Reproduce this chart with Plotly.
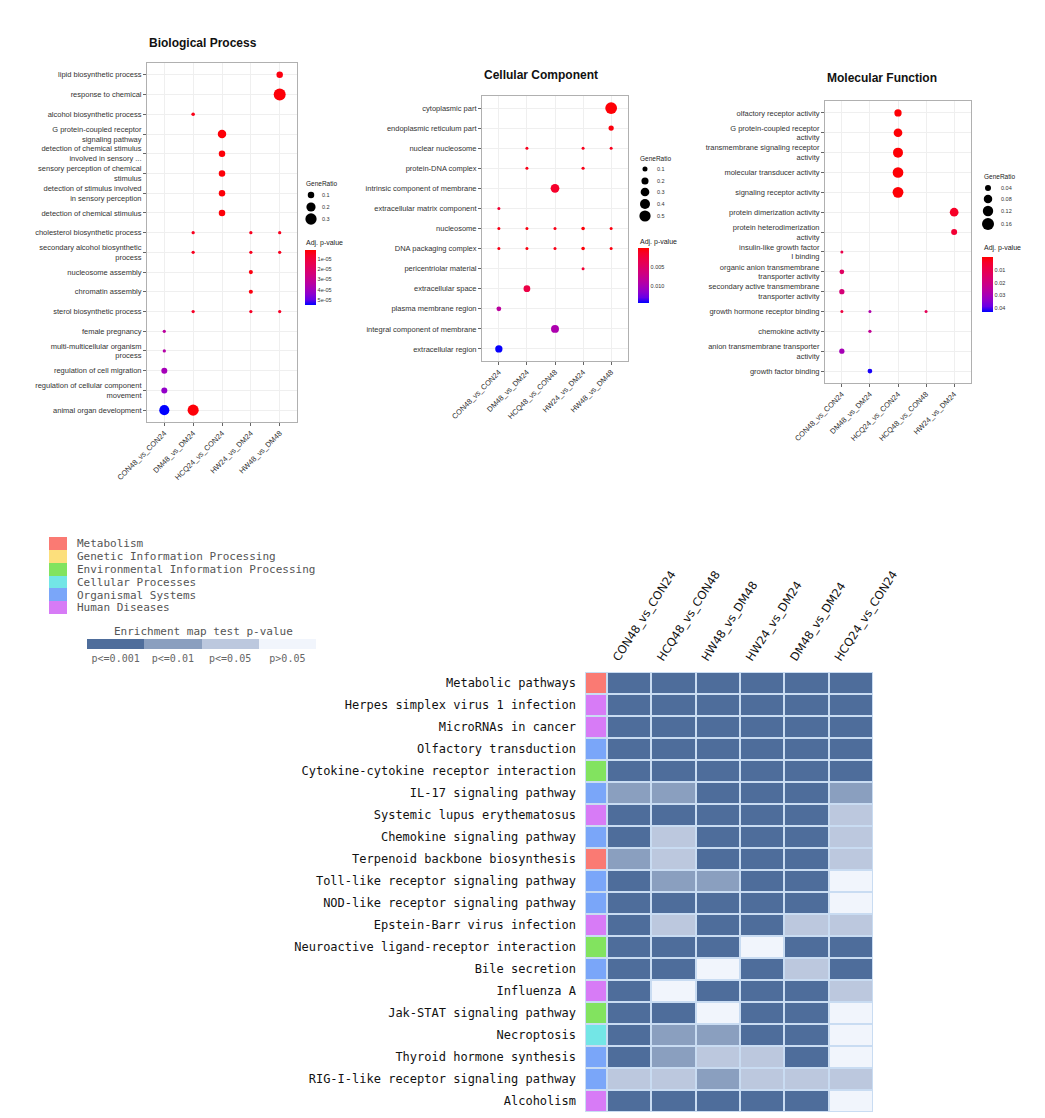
import plotly.graph_objects as go

W, H = 1045, 1118

# ---------------- data: GO dot plots ----------------
bp_terms = ["lipid biosynthetic process", "response to chemical", "alcohol biosynthetic process",
            "G protein-coupled receptor<br>signaling pathway",
            "detection of chemical stimulus<br>involved in sensory ...",
            "sensory perception of chemical<br>stimulus",
            "detection of stimulus involved<br>in sensory perception",
            "detection of chemical stimulus", "cholesterol biosynthetic process",
            "secondary alcohol biosynthetic<br>process", "nucleosome assembly", "chromatin assembly",
            "sterol biosynthetic process", "female pregnancy",
            "multi-multicellular organism<br>process", "regulation of cell migration",
            "regulation of cellular component<br>movement", "animal organ development"]
bp_groups = ["CON48_vs_CON24", "DM48_vs_DM24", "HCQ24_vs_CON24", "HW24_vs_DM24", "HW48_vs_DM48"]
bp_pt_term = [0, 1, 2, 3, 4, 5, 6, 7, 8, 8, 8, 9, 9, 9, 10, 11, 12, 12, 12, 13, 14, 15, 16, 17, 17]
bp_pt_group = [4, 4, 1, 2, 2, 2, 2, 2, 1, 3, 4, 1, 3, 4, 3, 3, 1, 3, 4, 0, 0, 0, 0, 0, 1]
bp_pt_ratio = [0.10, 0.34, 0.03, 0.17, 0.10, 0.10, 0.10, 0.10, 0.025, 0.025, 0.025, 0.025, 0.025,
               0.025, 0.04, 0.04, 0.025, 0.025, 0.025, 0.025, 0.025, 0.085, 0.085, 0.24, 0.29]
bp_pt_padj = [3e-6, 2e-6, 4e-6, 2e-6, 2e-6, 2e-6, 2e-6, 2e-6, 5e-6, 5e-6, 5e-6, 5e-6, 5e-6, 5e-6,
              3e-6, 3e-6, 6e-6, 6e-6, 6e-6, 3.3e-5, 3.5e-5, 3.9e-5, 4.3e-5, 5.5e-5, 2e-6]
bp_size_ticks = [0.1, 0.2, 0.3]
bp_size_labels = ["0.1", "0.2", "0.3"]
bp_p_ticks = [1e-5, 2e-5, 3e-5, 4e-5, 5e-5]
bp_p_labels = ["1e-05", "2e-05", "3e-05", "4e-05", "5e-05"]

cc_terms = ["cytoplasmic part", "endoplasmic reticulum part", "nuclear nucleosome", "protein-DNA complex",
            "intrinsic component of membrane", "extracellular matrix component", "nucleosome",
            "DNA packaging complex", "pericentriolar material", "extracellular space",
            "plasma membrane region", "integral component of membrane", "extracellular region"]
cc_groups = ["CON48_vs_CON24", "DM48_vs_DM24", "HCQ48_vs_CON48", "HW24_vs_DM24", "HW48_vs_DM48"]
cc_pt_term = [0, 1, 2, 2, 2, 3, 3, 4, 5, 6, 6, 6, 6, 6, 7, 7, 7, 7, 7, 8, 9, 10, 11, 12]
cc_pt_group = [4, 4, 1, 3, 4, 1, 3, 2, 0, 0, 1, 2, 3, 4, 0, 1, 2, 3, 4, 3, 1, 0, 2, 0]
cc_pt_ratio = [0.55, 0.11, 0.02, 0.02, 0.02, 0.025, 0.04, 0.30, 0.025, 0.025, 0.025, 0.025, 0.05, 0.03,
               0.025, 0.025, 0.025, 0.05, 0.03, 0.015, 0.18, 0.09, 0.25, 0.21]
cc_pt_padj = [0.0002, 0.0004, 0.001, 0.001, 0.001, 0.0008, 0.0008, 0.0015, 0.002, 0.0008, 0.0005,
              0.0008, 0.0003, 0.0005, 0.0008, 0.0005, 0.0008, 0.0003, 0.0005, 0.002, 0.003, 0.0085,
              0.0095, 0.0142]
cc_size_ticks = [0.1, 0.2, 0.3, 0.4, 0.5]
cc_size_labels = ["0.1", "0.2", "0.3", "0.4", "0.5"]
cc_p_ticks = [0.005, 0.010]
cc_p_labels = ["0.005", "0.010"]

mf_terms = ["olfactory receptor activity", "G protein-coupled receptor<br>activity",
            "transmembrane signaling receptor<br>activity", "molecular transducer activity",
            "signaling receptor activity", "protein dimerization activity",
            "protein heterodimerization<br>activity", "insulin-like growth factor<br>I binding",
            "organic anion transmembrane<br>transporter activity",
            "secondary active transmembrane<br>transporter activity",
            "growth hormone receptor binding", "chemokine activity",
            "anion transmembrane transporter<br>activity", "growth factor binding"]
mf_groups = ["CON48_vs_CON24", "DM48_vs_DM24", "HCQ24_vs_CON24", "HCQ48_vs_CON48", "HW24_vs_DM24"]
mf_pt_term = [0, 1, 2, 3, 4, 5, 6, 7, 8, 9, 10, 10, 10, 11, 12, 13]
mf_pt_group = [2, 2, 2, 2, 2, 4, 4, 0, 0, 0, 0, 1, 3, 1, 0, 1]
mf_pt_ratio = [0.059, 0.084, 0.111, 0.127, 0.13, 0.084, 0.04, 0.008, 0.025, 0.031, 0.008, 0.0045,
               0.008, 0.012, 0.031, 0.025]
mf_pt_padj = [0.0005, 0.0005, 0.0005, 0.0005, 0.0005, 0.004, 0.006, 0.010, 0.014, 0.018, 0.008, 0.028,
              0.012, 0.024, 0.030, 0.042]
mf_size_ticks = [0.04, 0.08, 0.12, 0.16]
mf_size_labels = ["0.04", "0.08", "0.12", "0.16"]
mf_p_ticks = [0.01, 0.02, 0.03, 0.04]
mf_p_labels = ["0.01", "0.02", "0.03", "0.04"]

# ---------------- data: KEGG heatmap ----------------
hm_pathways = ["Metabolic pathways", "Herpes simplex virus 1 infection", "MicroRNAs in cancer",
               "Olfactory transduction", "Cytokine-cytokine receptor interaction",
               "IL-17 signaling pathway", "Systemic lupus erythematosus", "Chemokine signaling pathway",
               "Terpenoid backbone biosynthesis", "Toll-like receptor signaling pathway",
               "NOD-like receptor signaling pathway", "Epstein-Barr virus infection",
               "Neuroactive ligand-receptor interaction", "Bile secretion", "Influenza A",
               "Jak-STAT signaling pathway", "Necroptosis", "Thyroid hormone synthesis",
               "RIG-I-like receptor signaling pathway", "Alcoholism"]
hm_category = ["Metabolism", "Human Diseases", "Human Diseases", "Organismal Systems",
               "Environmental Information Processing", "Organismal Systems", "Human Diseases",
               "Organismal Systems", "Metabolism", "Organismal Systems", "Organismal Systems",
               "Human Diseases", "Environmental Information Processing", "Organismal Systems",
               "Human Diseases", "Environmental Information Processing", "Cellular Processes",
               "Organismal Systems", "Organismal Systems", "Human Diseases"]
hm_cols = ["CON48_vs_CON24", "HCQ48_vs_CON48", "HW48_vs_DM48", "HW24_vs_DM24", "DM48_vs_DM24",
           "HCQ24_vs_CON24"]
# 0: p<=0.001, 1: p<=0.01, 2: p<=0.05, 3: p>0.05
hm_levels = [
    [0, 0, 0, 0, 0, 0],
    [0, 0, 0, 0, 0, 0],
    [0, 0, 0, 0, 0, 0],
    [0, 0, 0, 0, 0, 0],
    [0, 0, 0, 0, 0, 0],
    [1, 1, 0, 0, 0, 1],
    [0, 0, 0, 0, 0, 2],
    [0, 2, 0, 0, 0, 2],
    [1, 2, 0, 0, 0, 2],
    [0, 1, 1, 0, 0, 3],
    [0, 0, 0, 0, 0, 3],
    [0, 2, 0, 0, 2, 2],
    [0, 0, 0, 3, 0, 0],
    [0, 0, 3, 0, 2, 0],
    [0, 3, 0, 0, 0, 2],
    [0, 0, 3, 0, 0, 3],
    [0, 1, 1, 0, 0, 3],
    [0, 1, 2, 2, 0, 3],
    [2, 2, 1, 2, 2, 2],
    [0, 0, 0, 0, 0, 3],
]
kegg_classes = ["Metabolism", "Genetic Information Processing", "Environmental Information Processing",
                "Cellular Processes", "Organismal Systems", "Human Diseases"]
kegg_colors = ["#FA7A73", "#FCDF7C", "#82E35F", "#73E6E6", "#7AA6F9", "#D77BF6"]
pv_labels = ["p<=0.001", "p<=0.01", "p<=0.05", "p>0.05"]
pv_colors = ["#4E6D9B", "#8A9FBF", "#BCC8DE", "#F1F5FC"]


# ---------------- helpers ----------------
def dx(a, b):
    return [a / W, b / W]


def dy(top, bottom):
    return [1 - bottom / H, 1 - top / H]


def _lin(c):
    return c / 12.92 if c <= 0.04045 else ((c + 0.055) / 1.055) ** 2.4


def _delin(c):
    return 12.92 * c if c <= 0.0031308 else 1.055 * c ** (1 / 2.4) - 0.055


def hex2lab(h):
    r, g, b = [_lin(int(h[i:i + 2], 16) / 255) for i in (1, 3, 5)]
    X = 0.4124 * r + 0.3576 * g + 0.1805 * b
    Y = 0.2126 * r + 0.7152 * g + 0.0722 * b
    Z = 0.0193 * r + 0.1192 * g + 0.9505 * b
    f = lambda t: t ** (1 / 3) if t > 0.008856 else 7.787 * t + 16 / 116
    fx, fy, fz = f(X / 0.95047), f(Y), f(Z / 1.08883)
    return 116 * fy - 16, 500 * (fx - fy), 200 * (fy - fz)


def lab2hex(L, a, b):
    fy = (L + 16) / 116
    fx = fy + a / 500
    fz = fy - b / 200
    finv = lambda t: t ** 3 if t ** 3 > 0.008856 else (t - 16 / 116) / 7.787
    X, Y, Z = 0.95047 * finv(fx), finv(fy), 1.08883 * finv(fz)
    r = 3.2406 * X - 1.5372 * Y - 0.4986 * Z
    g = -0.9689 * X + 1.8758 * Y + 0.0415 * Z
    bb = 0.0557 * X - 0.2040 * Y + 1.0570 * Z
    return '#%02x%02x%02x' % tuple(int(round(max(0, min(1, _delin(max(0, c)))) * 255)) for c in (r, g, bb))


red_lab, blue_lab = hex2lab("#FF0000"), hex2lab("#0000FF")
# colour axis is -p (so small p at the top of the bar): s=0 -> blue, s=1 -> red
p_scale = []
for i in range(11):
    s = i / 10
    t = 1 - s
    p_scale.append([s, lab2hex(*[red_lab[k] + (blue_lab[k] - red_lab[k]) * t for k in range(3)])])


def discrete_scale(colors):
    n = len(colors)
    sc = []
    for i, c in enumerate(colors):
        sc.append([i / n, c])
        sc.append([(i + 1) / n, c])
    return sc


FONT = "Liberation Sans"
MONO = "DejaVu Sans Mono"

fig = go.Figure()

panels = [
    dict(terms=bp_terms, groups=bp_groups, pt=bp_pt_term, pg=bp_pt_group, ratio=bp_pt_ratio,
         padj=bp_pt_padj, sref=0.00473, cmin=1e-6, cmax=5.5e-5, pticks=bp_p_ticks, plabels=bp_p_labels,
         xd=(147, 297), yd=(63, 422), cb=(305, 250, 305), ax=""),
    dict(terms=cc_terms, groups=cc_groups, pt=cc_pt_term, pg=cc_pt_group, ratio=cc_pt_ratio,
         padj=cc_pt_padj, sref=0.00793, cmin=0.0, cmax=0.0143, pticks=cc_p_ticks, plabels=cc_p_labels,
         xd=(482, 628), yd=(96, 361), cb=(638, 248, 303), ax="2"),
    dict(terms=mf_terms, groups=mf_groups, pt=mf_pt_term, pg=mf_pt_group, ratio=mf_pt_ratio,
         padj=mf_pt_padj, sref=0.00222, cmin=0.0, cmax=0.043, pticks=mf_p_ticks, plabels=mf_p_labels,
         xd=(825, 971), yd=(101, 383), cb=(982, 257, 312), ax="3"),
]

for p in panels:
    cbx, cbt, cbb = p["cb"]
    fig.add_trace(go.Scatter(
        x=[p["groups"][g] for g in p["pg"]],
        y=[p["terms"][t] for t in p["pt"]],
        mode="markers",
        marker=dict(size=p["ratio"], sizemode="area", sizeref=p["sref"], sizemin=1.5, opacity=1,
                    color=[-v for v in p["padj"]], colorscale=p_scale,
                    cmin=-p["cmax"], cmax=-p["cmin"], line=dict(width=0),
                    colorbar=dict(x=cbx / W, xanchor="left", y=1 - cbb / H, yanchor="bottom",
                                  len=cbb - cbt, lenmode="pixels", thickness=11,
                                  thicknessmode="pixels", outlinewidth=0, xpad=0, ypad=0,
                                  tickvals=[-v for v in p["pticks"]], ticktext=p["plabels"],
                                  ticks="", tickfont=dict(family=FONT, size=5.5, color="#333"))),
        xaxis="x" + p["ax"], yaxis="y" + p["ax"], showlegend=False, hoverinfo="x+y"))
    n = len(p["terms"])
    xa = dict(domain=dx(*p["xd"]), anchor="y" + p["ax"], type="category", categoryorder="array",
              categoryarray=p["groups"], range=[-0.6, len(p["groups"]) - 0.4], tickangle=-45,
              tickfont=dict(family=FONT, size=7.5, color="#333"), showgrid=True, gridcolor="#efefef",
              gridwidth=1, showline=True, mirror=True, linecolor="#b0b0b0", linewidth=1,
              ticks="outside", ticklen=3, tickcolor="#666", zeroline=False, automargin=False,
              tickmode="array", tickvals=p["groups"])
    ya = dict(domain=dy(*p["yd"]), anchor="x" + p["ax"], type="category", categoryorder="array",
              categoryarray=list(reversed(p["terms"])), range=[-0.6, n - 0.4],
              tickfont=dict(family=FONT, size=7.5, color="#333"), showgrid=True, gridcolor="#efefef",
              gridwidth=1, showline=True, mirror=True, linecolor="#b0b0b0", linewidth=1,
              ticks="outside", ticklen=3, tickcolor="#666", zeroline=False, automargin=False,
              tickmode="array", tickvals=p["terms"])
    fig.layout["xaxis" + p["ax"]] = xa
    fig.layout["yaxis" + p["ax"]] = ya

# ---------------- overlay pixel axis for legends / titles ----------------
fig.update_layout(
    xaxis4=dict(domain=[0, 1], range=[0, W], visible=False, fixedrange=True, anchor="y4",
                automargin=False),
    yaxis4=dict(domain=[0, 1], range=[H, 0], visible=False, fixedrange=True, anchor="x4",
                automargin=False),
)

size_legends = [
    (bp_size_ticks, bp_size_labels, 0.00473, 304, 183, 311, [195, 207, 219], 320, 243),
    (cc_size_ticks, cc_size_labels, 0.00793, 638, 158, 645, [169, 181, 192, 204, 216], 655, 242),
    (mf_size_ticks, mf_size_labels, 0.00222, 982, 176, 988, [188, 199, 211, 224], 999, 248),
]
ann = []
for ticks, labels, sref, tx, ty, cx, cys, lx, py in size_legends:
    fig.add_trace(go.Scatter(x=[cx] * len(ticks), y=cys, mode="markers",
                             marker=dict(size=ticks, sizemode="area", sizeref=sref, color="black",
                                         opacity=1, line=dict(width=0)),
                             xaxis="x4", yaxis="y4", showlegend=False, hoverinfo="skip"))
    ann.append(dict(x=tx, y=ty, xref="x4", yref="y4", text="GeneRatio", showarrow=False,
                    xanchor="left", yanchor="middle", font=dict(family=FONT, size=6.5, color="#222")))
    for yy, lab in zip(cys, labels):
        ann.append(dict(x=lx, y=yy, xref="x4", yref="y4", text=lab, showarrow=False,
                        xanchor="left", yanchor="middle", font=dict(family=FONT, size=5.5, color="#333")))
    ann.append(dict(x=tx, y=py, xref="x4", yref="y4", text="Adj. p-value", showarrow=False,
                    xanchor="left", yanchor="middle", font=dict(family=FONT, size=7, color="#222")))

for txt, x0, yy in [("Biological Process", 147, 43), ("Cellular Component", 482, 75),
                    ("Molecular Function", 825, 78)]:
    ann.append(dict(x=x0, y=yy, xref="x4", yref="y4", text="<b>" + txt + "</b>", showarrow=False,
                    xanchor="left", yanchor="middle", font=dict(family=FONT, size=12, color="#111")))

# ---------------- KEGG heatmap ----------------
fig.add_trace(go.Heatmap(z=hm_levels, x=hm_cols, y=hm_pathways, colorscale=discrete_scale(pv_colors),
                         zmin=-0.5, zmax=3.5, showscale=False, xgap=2, ygap=2,
                         xaxis="x7", yaxis="y7", hoverinfo="x+y"))
fig.add_trace(go.Heatmap(z=[[kegg_classes.index(c)] for c in hm_category], x=["class"], y=hm_pathways,
                         colorscale=discrete_scale(kegg_colors), zmin=-0.5, zmax=5.5, showscale=False,
                         xgap=2, ygap=2, xaxis="x8", yaxis="y7", hoverinfo="y"))
fig.update_layout(
    xaxis7=dict(domain=dx(607, 873), anchor="y7", side="top", tickangle=-57, showgrid=False,
                zeroline=False, ticks="", ticklabelstandoff=4, ticklabelshift=-15, automargin=False,
                tickmode="array", tickvals=hm_cols,
                tickfont=dict(family="DejaVu Sans", size=11.5, color="#111")),
    xaxis8=dict(domain=dx(585, 607), anchor="y7", visible=False, automargin=False),
    yaxis7=dict(domain=dy(672, 1112), anchor="x8", autorange="reversed", showgrid=False,
                zeroline=False, ticks="", ticklabelstandoff=8, automargin=False,
                tickmode="array", tickvals=hm_pathways,
                tickfont=dict(family=MONO, size=12, color="#111")),
)

# legend: KEGG classes
fig.add_trace(go.Heatmap(z=[[i] for i in range(len(kegg_classes))], x=[0], y=kegg_classes,
                         colorscale=discrete_scale(kegg_colors), zmin=-0.5, zmax=5.5, showscale=False,
                         xaxis="x9", yaxis="y9", hoverinfo="y"))
# legend: p-value levels
fig.add_trace(go.Heatmap(z=[list(range(len(pv_labels)))], x=pv_labels, y=[0],
                         colorscale=discrete_scale(pv_colors), zmin=-0.5, zmax=3.5, showscale=False,
                         xaxis="x10", yaxis="y10", hoverinfo="x"))
fig.update_layout(
    xaxis9=dict(domain=dx(49, 67), anchor="y9", visible=False, automargin=False),
    yaxis9=dict(domain=dy(537, 614), anchor="x9", side="right", autorange="reversed", showgrid=False,
                zeroline=False, ticks="", ticklabelstandoff=9, automargin=False,
                tickmode="array", tickvals=kegg_classes,
                tickfont=dict(family=MONO, size=11, color="#555")),
    xaxis10=dict(domain=dx(87, 316), anchor="y10", showgrid=False, zeroline=False, ticks="",
                 ticklabelstandoff=2, automargin=False, tickmode="array", tickvals=pv_labels,
                 tickfont=dict(family=MONO, size=10, color="#666")),
    yaxis10=dict(domain=dy(639, 649), anchor="x10", visible=False, automargin=False),
)
ann.append(dict(x=203, y=631, xref="x4", yref="y4", text="Enrichment map test p-value", showarrow=False,
                xanchor="center", yanchor="middle", font=dict(family=MONO, size=11, color="#555")))

fig.update_layout(
    width=W, height=H, margin=dict(l=0, r=0, t=0, b=0, pad=0, autoexpand=False),
    paper_bgcolor="white", plot_bgcolor="rgba(0,0,0,0)",
    annotations=ann, showlegend=False,
    shapes=[dict(type="rect", xref="paper", yref="paper", x0=585 / W, x1=873 / W,
                 y0=1 - 1112 / H, y1=1 - 672 / H, fillcolor="#C9DCF2", line=dict(width=0),
                 layer="below")],
)

fig.write_html("out.html", config={"displayModeBar": False},
               post_script="document.body.style.margin='0px';")
